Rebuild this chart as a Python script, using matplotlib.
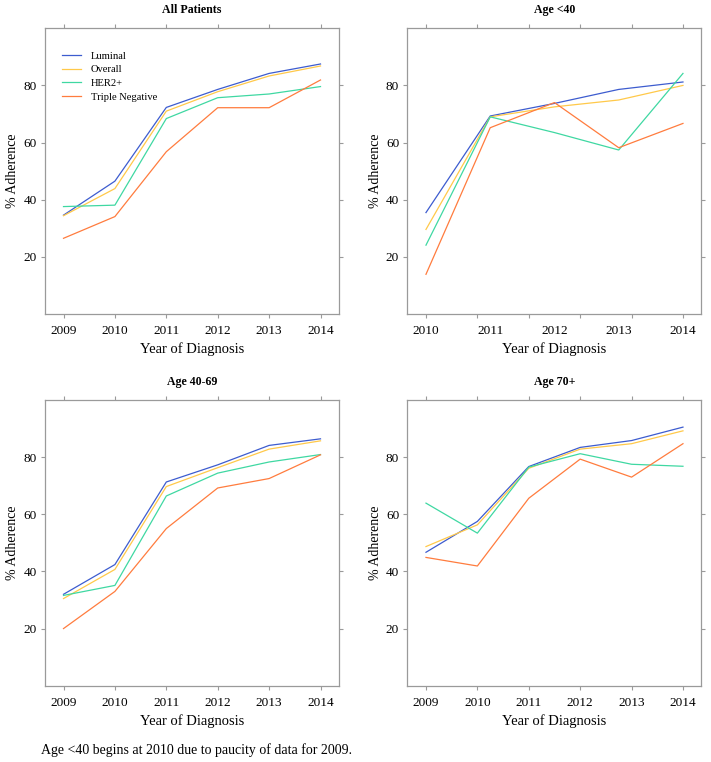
import numpy as np
import matplotlib
matplotlib.use("Agg")
import matplotlib.pyplot as plt

plt.rcParams['font.family'] = ['Liberation Serif', 'DejaVu Serif']

# data
years_all = [2009, 2010, 2011, 2012, 2013, 2014]
years_young = [2010, 2011, 2012, 2013, 2014]

series_names = ['Luminal', 'Overall', 'HER2+', 'Triple Negative']
series_colors = ['#3d5ccf', '#ffc94a', '#3fd8a2', '#ff7c3e']

all_patients = {
    'Luminal': [34.6, 46.5, 72.3, 78.6, 84.2, 87.5],
    'Overall': [34.4, 43.9, 71.0, 77.8, 83.3, 86.8],
    'HER2+': [37.6, 38.1, 68.4, 75.7, 77.0, 79.6],
    'Triple Negative': [26.5, 34.1, 56.8, 72.2, 72.2, 81.9],
}
age_under_40 = {
    'Luminal': [35.5, 69.3, 73.7, 78.6, 81.2],
    'Overall': [29.6, 69.0, 72.5, 74.9, 80.0],
    'HER2+': [24.1, 69.0, 63.5, 57.4, 84.2],
    'Triple Negative': [13.9, 65.2, 74.0, 58.2, 66.7],
}
age_40_69 = {
    'Luminal': [32.0, 42.4, 71.3, 77.3, 84.1, 86.4],
    'Overall': [30.5, 40.7, 69.7, 76.3, 82.8, 85.7],
    'HER2+': [31.6, 35.1, 66.4, 74.4, 78.3, 80.9],
    'Triple Negative': [20.0, 33.0, 55.0, 69.2, 72.5, 80.8],
}
age_70_plus = {
    'Luminal': [46.7, 57.5, 76.7, 83.4, 85.8, 90.5],
    'Overall': [48.7, 56.3, 76.1, 82.8, 84.7, 89.2],
    'HER2+': [63.9, 53.4, 76.5, 81.2, 77.5, 76.8],
    'Triple Negative': [44.9, 41.9, 65.6, 79.3, 73.0, 84.7],
}

panels = [
    ('All Patients', years_all, all_patients, [0.0633, 0.5879]),
    ('Age <40', years_young, age_under_40, [0.5731, 0.5879]),
    ('Age 40-69', years_all, age_40_69, [0.0633, 0.1001]),
    ('Age 70+', years_all, age_70_plus, [0.5731, 0.1001]),
]

fig = plt.figure(figsize=(7.11, 7.62), dpi=100)
frame_col = '#9a9a9a'

for title, years, data, (left, bottom) in panels:
    ax = fig.add_axes([left, bottom, 0.4135, 0.375])
    for name, col in zip(series_names, series_colors):
        ax.plot(years, data[name], color=col, linewidth=0.9, label=name)

    span = years[-1] - years[0]
    ax.set_xlim(years[0] - 0.072 * span, years[-1] + 0.072 * span)
    ax.set_ylim(0, 100)
    ax.set_yticks([20, 40, 60, 80])

    if len(years) == 6:
        ax.set_xticks(years)
    else:
        # tick marks spaced evenly, labels sit on the years
        ax.xaxis.remove_overlapping_locs = False
        ax.set_xticks(np.linspace(years[0], years[-1], 6))
        ax.set_xticklabels([])
        ax.set_xticks(years, minor=True)
        ax.set_xticklabels([str(y) for y in years], minor=True)
        ax.tick_params(axis='x', which='minor', length=0, pad=8.0)

    ax.tick_params(which='major', direction='out', length=3, width=0.8,
                   color=frame_col, labelsize=9.5, pad=5,
                   top=True, right=True, labeltop=False, labelright=False)
    ax.tick_params(axis='y', pad=3)
    ax.tick_params(axis='x', which='minor', labelsize=9.5, top=False)
    for sp in ax.spines.values():
        sp.set_color(frame_col)
        sp.set_linewidth(0.9)

    ax.set_title(title, fontsize=8.6, fontweight='bold', pad=11)
    ax.set_xlabel('Year of Diagnosis', fontsize=10.5, labelpad=4)
    ax.set_ylabel('% Adherence', fontsize=10, labelpad=3)

    if title == 'All Patients':
        ax.legend(loc='upper left', bbox_to_anchor=(0.057, 0.92), frameon=False,
                  fontsize=7.6, handlelength=1.8, handletextpad=0.95,
                  labelspacing=0.42, borderpad=0, borderaxespad=0)

fig.text(41 / 711, 1 - 750 / 762,
         'Age <40 begins at 2010 due to paucity of data for 2009.',
         fontsize=10, va='center', ha='left')

fig.savefig('out.png', dpi=100)
